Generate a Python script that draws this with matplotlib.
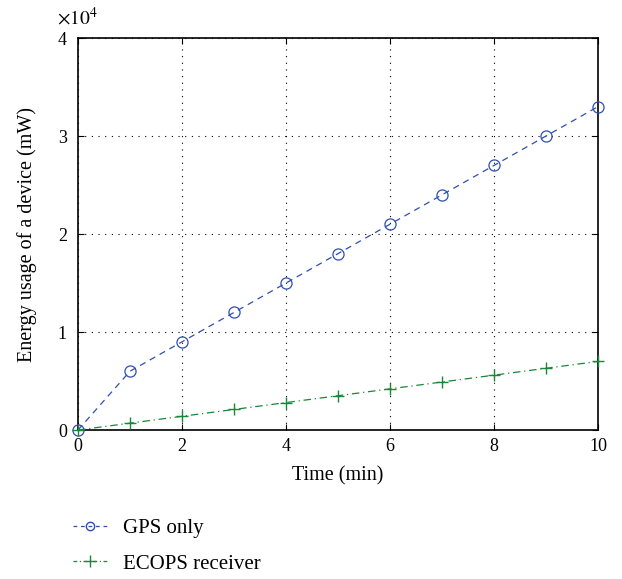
import matplotlib
matplotlib.use("Agg")
import matplotlib.pyplot as plt
from matplotlib.lines import Line2D

plt.rcParams['font.family'] = ['Liberation Serif', 'DejaVu Serif']
plt.rcParams['mathtext.fontset'] = 'stix'

time_min = [0, 1, 2, 3, 4, 5, 6, 7, 8, 9, 10]
gps_only = [0, 6000, 9000, 12000, 15000, 18000, 21000, 24000, 27000, 30000, 33000]
ecops = [0, 700, 1400, 2100, 2800, 3500, 4200, 4900, 5600, 6300, 7000]

blue = "#2f4fb0"
green = "#17873a"

fig = plt.figure(figsize=(6.22, 5.79), dpi=100)
ax = fig.add_axes([0.1254, 0.2573, 0.836, 0.677])

ax.plot(time_min, [v / 1e4 for v in gps_only], color=blue, linestyle=(0, (5, 4)),
        linewidth=0.9, marker='o', markersize=8, markerfacecolor='none',
        markeredgecolor=blue, markeredgewidth=0.9, clip_on=False, zorder=3)
ax.plot(time_min, [v / 1e4 for v in ecops], color=green, linestyle=(0, (6, 3, 1, 3)),
        linewidth=0.9, marker='+', markersize=9, markeredgewidth=1.0,
        clip_on=False, zorder=3)

ax.set_xlim(0, 10)
ax.set_ylim(0, 4)
ax.set_xticks([0, 2, 4, 6, 8, 10])
ax.set_yticks([0, 1, 2, 3, 4])
ax.grid(True, color='black', linestyle=(0, (1, 5)), linewidth=0.8)
ax.tick_params(direction='in', top=True, right=True, labelsize=13, length=4)
ax.tick_params(axis='x', pad=6)
ax.tick_params(axis='y', pad=8)
for s in ax.spines.values():
    s.set_linewidth(1.2)

ax.set_xlabel("Time (min)", fontsize=14.5, labelpad=8)
ax.set_ylabel("Energy usage of a device (mW)", fontsize=14.5, labelpad=15)
ax.text(-0.002, 1.025, r"$\times10^4$", transform=ax.transAxes, fontsize=14,
        ha='center', va='bottom')

handles = [
    Line2D([], [], color=blue, linestyle=(0, (3, 3)), linewidth=0.9, marker='o',
           markersize=6, markerfacecolor='none', markeredgecolor=blue),
    Line2D([], [], color=green, linestyle=(0, (3, 2, 1, 2)), linewidth=0.9,
           marker='+', markersize=8),
]
fig.legend(handles, ["GPS only", "ECOPS receiver"], loc='upper left',
           bbox_to_anchor=(54 / 622, 1 - 500 / 579), frameon=False, fontsize=15,
           handlelength=1.7, handletextpad=0.7, labelspacing=0.75)

fig.savefig("out.png", dpi=100)
